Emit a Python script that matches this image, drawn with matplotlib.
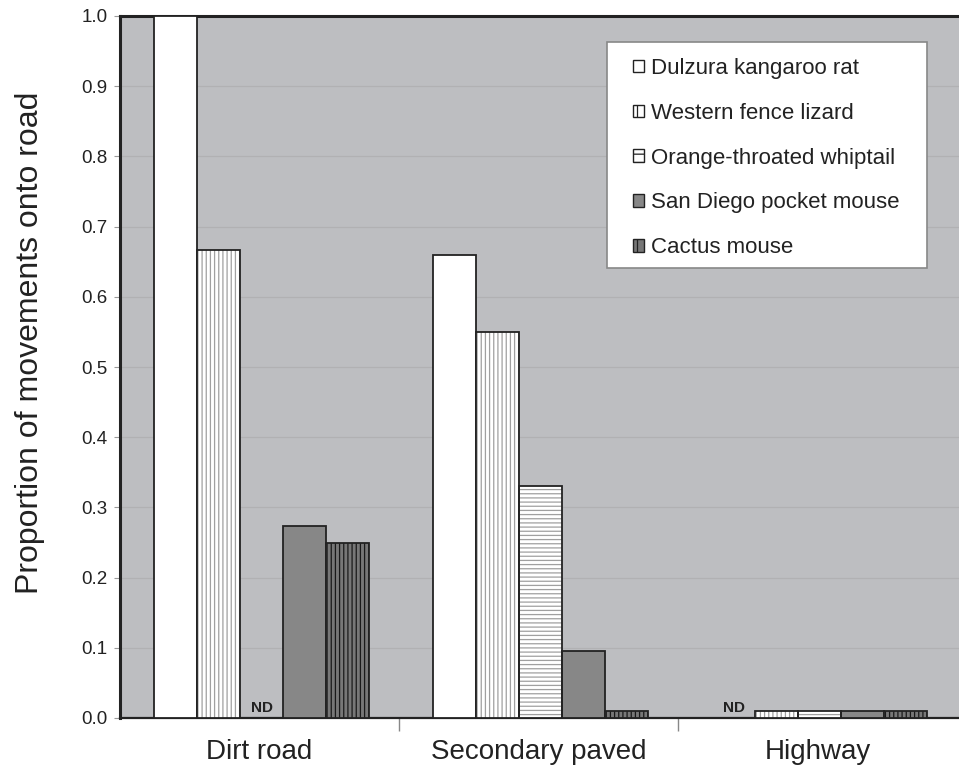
import matplotlib.pyplot as plt
import numpy as np
from matplotlib.patches import Patch, Rectangle

plt.rcParams['font.family'] = ['Liberation Sans', 'DejaVu Sans']
plt.rcParams['hatch.linewidth'] = 0.9

categories = ["Dirt road", "Secondary paved", "Highway"]
species = ["Dulzura kangaroo rat", "Western fence lizard",
           "Orange-throated whiptail", "San Diego pocket mouse", "Cactus mouse"]
# np.nan = no data (ND)
values = {
    "Dulzura kangaroo rat":     [1.0,   0.66,  np.nan],
    "Western fence lizard":     [0.667, 0.55,  0.01],
    "Orange-throated whiptail": [np.nan, 0.33, 0.01],
    "San Diego pocket mouse":   [0.273, 0.095, 0.01],
    "Cactus mouse":             [0.25,  0.01,  0.01],
}
yticks = [0.0, 0.1, 0.2, 0.3, 0.4, 0.5, 0.6, 0.7, 0.8, 0.9, 1.0]

# face colour, hatch, hatch colour, legend hatch
styles = {
    "Dulzura kangaroo rat":     ("white", None, None, None),
    "Western fence lizard":     ("white", "||||", "#a0a0a0", "||"),
    "Orange-throated whiptail": ("white", "----", "#a0a0a0", "--"),
    "San Diego pocket mouse":   ("#878787", None, None, None),
    "Cactus mouse":             ("#777777", "||||", "#1a1a1a", "||"),
}

W, H = 959, 769
fig = plt.figure(figsize=(W / 100, H / 100), dpi=100)
ax = fig.add_axes([120 / W, 51 / H, 839 / W, 702 / H])
ax.set_facecolor("#bdbec1")

x = np.arange(len(categories))
w = 0.154
edge = "#222222"
for i, sp in enumerate(species):
    fc, hatch, hc, _ = styles[sp]
    vals = np.array(values[sp], dtype=float)
    pos = x + (i - 2) * w + 0.008
    ok = ~np.isnan(vals)
    if hatch:
        ax.bar(pos[ok], vals[ok], w, color=fc, edgecolor=hc, hatch=hatch,
               linewidth=0, zorder=3)
        ax.bar(pos[ok], vals[ok], w, facecolor="none", edgecolor=edge,
               linewidth=1.3, zorder=4)
    else:
        ax.bar(pos[ok], vals[ok], w, color=fc, edgecolor=edge,
               linewidth=1.3, zorder=3)
    for p, v in zip(pos, vals):
        if np.isnan(v):
            ax.text(p, 0.004, "ND", ha="center", va="bottom",
                    fontsize=11, fontweight="bold", color="#222222", zorder=5)

ax.set_ylim(0, 1.0)
ax.set_xlim(-0.5, 2.507)
ax.set_yticks(yticks)
ax.set_yticklabels([f"{t:.1f}" for t in yticks], fontsize=13.5, color="#222222")
ax.yaxis.grid(True, color="#b1b1b3", linewidth=0.9, zorder=0)
ax.set_axisbelow(True)

ax.set_xticks(x)
ax.set_xticklabels(categories, fontsize=20, color="#222222")
ax.tick_params(axis="x", which="major", length=0, pad=15)
ax.set_xticks([0.5, 1.5], minor=True)
ax.tick_params(axis="x", which="minor", length=9, color="#888888", width=1)
ax.tick_params(axis="y", length=4, color="#999999", pad=5)

fig.text(30 / W, 1 - 343 / H, "Proportion of movements onto road",
         rotation=90, fontsize=23, color="#222222", ha="center", va="center")

ax.spines["right"].set_visible(False)
ax.spines["top"].set_linewidth(2.2)
ax.spines["left"].set_linewidth(2.2)
ax.spines["bottom"].set_linewidth(1.6)
for s in ax.spines.values():
    s.set_color("#222222")

# legend frame drawn separately so its size matches the original box
frame = Rectangle((607 / W, 1 - 268 / H), 320 / W, 226 / H,
                  transform=fig.transFigure, facecolor="white",
                  edgecolor="#888888", linewidth=1.2, zorder=10)
fig.add_artist(frame)

handles = []
for sp in species:
    fc, _, _, lh = styles[sp]
    handles.append(Patch(facecolor=fc, edgecolor=edge, hatch=lh,
                         linewidth=1.0, label=sp))
leg = fig.legend(handles=handles, loc="upper left",
                 bbox_to_anchor=(633 / W, 1 - 58 / H),
                 fontsize=16, frameon=False,
                 handlelength=0.5, handleheight=0.5, handletextpad=0.3,
                 labelspacing=1.07, borderpad=0, borderaxespad=0)
leg.set_zorder(11)
for t in leg.get_texts():
    t.set_color("#222222")

fig.savefig("out.png", dpi=100)
